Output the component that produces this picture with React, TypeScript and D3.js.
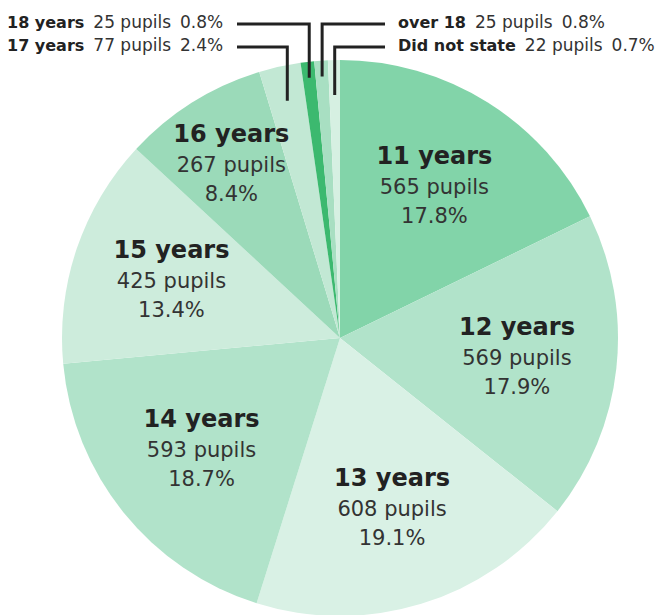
import React from 'react'
import * as d3 from 'd3'

const ages = ['11 years', '12 years', '13 years', '14 years', '15 years', '16 years', '17 years', '18 years', 'over 18', 'Did not state']
const pupils = [565, 569, 608, 593, 425, 267, 77, 25, 25, 22]
const colors = ['#82d4a9', '#b1e3ca', '#d9f1e5', '#b1e3ca', '#cdecdc', '#9bdab9', '#c2e8d4', '#3cb96f', '#a8dfc2', '#d6f0e2']
// small slices get a legend row at the top instead of an inside label
const legendLeft = ['18 years', '17 years']
const legendRight = ['over 18', 'Did not state']

const width = 657
const height = 615
const cx = 340
const cy = 338
const radius = 278
const font = '"DejaVu Sans", "Liberation Sans", sans-serif'

export default function App() {
  const total = d3.sum(pupils)
  const rows = ages.map((age, i) => ({ age, value: pupils[i], color: colors[i] }))
  const arcs = d3.pie<any>().sort(null).value((d) => d.value)(rows)
  const arc = d3.arc<any>().innerRadius(0).outerRadius(radius)
  const pct = (v: number) => d3.format('.1f')((v / total) * 100) + '%'

  const pointAt = (a: any, r: number) => {
    const m = (a.startAngle + a.endAngle) / 2
    return [r * Math.sin(m), -r * Math.cos(m)]
  }

  const rowY = [22, 45]

  const legendRow = (name: string, i: number, x0: number, lineX: number) => {
    const a = arcs.find((d) => d.data.age === name)!
    const [px, py] = pointAt(a, i === 0 ? 262 : 243)
    return (
      <g key={name}>
        <text x={x0} y={rowY[i]} dy="0.35em" fontSize={17} fill="#333">
          <tspan fontWeight={700} fontSize={16} fill="#222">{name}</tspan>
          <tspan dx={9}>{a.data.value} pupils</tspan>
          <tspan dx={9}>{pct(a.data.value)}</tspan>
        </text>
        <path d={`M${lineX},${rowY[i] + 2}H${cx + px}V${cy + py}`} fill="none" stroke="#222" strokeWidth={3} />
      </g>
    )
  }

  return (
    <svg width={width} height={height} style={{ position: 'absolute', left: 0, top: 0, fontFamily: font }}>
      <g transform={`translate(${cx},${cy})`}>
        {arcs.map((a) => (
          <path key={a.data.age} d={arc(a) as string} fill={a.data.color} />
        ))}
        {arcs.filter((a) => a.data.value / total > 0.05).map((a) => {
          const [x, y] = pointAt(a, a.data.value / total < 0.1 ? 205 : 178)
          return (
            <g key={a.data.age} transform={`translate(${x},${y})`} textAnchor="middle">
              <text y={-31} dy="0.35em" fontSize={24} fontWeight={700} fill="#222">{a.data.age}</text>
              <text y={0} dy="0.35em" fontSize={21} fill="#333">{a.data.value} pupils</text>
              <text y={29} dy="0.35em" fontSize={21} fill="#333">{pct(a.data.value)}</text>
            </g>
          )
        })}
      </g>

      {legendLeft.map((name, i) => legendRow(name, i, 7, 237))}
      {legendRight.map((name, i) => legendRow(name, i, 398, 385))}
    </svg>
  )
}
